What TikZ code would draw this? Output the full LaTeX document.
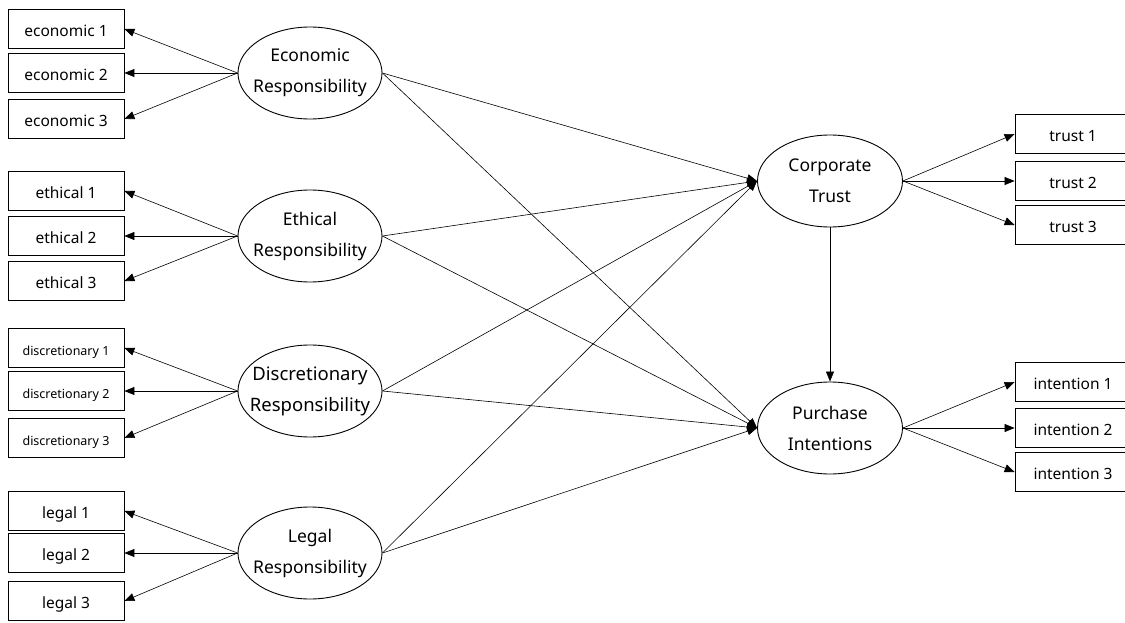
\documentclass[tikz,border=0pt]{standalone}
\usepackage{fontspec}
\setmainfont{Noto Sans}
\usetikzlibrary{arrows.meta,shapes.geometric}

\begin{document}
\begin{tikzpicture}[x=1pt,y=1pt,yscale=-1,xscale=1,
  obs/.style={draw,line width=0.8pt,minimum width=116pt,minimum height=39pt,inner sep=0pt,text height=15pt,text depth=0pt,font=\fontsize{15.5}{18}\selectfont},
  smallobs/.style={obs,text height=14pt,font=\fontsize{12.5}{15}\selectfont},
  lat/.style={draw,ellipse,line width=0.9pt,minimum width=144pt,minimum height=92pt,inner sep=0pt},
  lbl/.style={align=center,font=\fontsize{17.5}{31}\selectfont},
  biglbl/.style={align=center,font=\fontsize{18.5}{31}\selectfont},
  lnk/.style={line width=0.6pt,-{Triangle[length=10pt,width=8pt]}}]
\useasboundingbox (0,0) rectangle (1125,623);

%Shape: Ellipse [latent]
\node[lat,label={[lbl]center:{Economic\\Responsibility}}] (econ) at (310,73) {};
\node[lat,label={[lbl]center:{Ethical\\Responsibility}}] (eth) at (310,236) {};
\node[lat,label={[biglbl]center:{Discretionary\\Responsibility}}] (disc) at (310,391) {};
\node[lat,label={[lbl]center:{Legal\\Responsibility}}] (legal) at (310,553) {};
\node[lat,minimum width=145pt,label={[lbl]center:{Corporate\\Trust}}] (trust) at (830,181) {};
\node[lat,minimum width=145pt,label={[lbl]center:{Purchase\\Intentions}}] (pi) at (830,428) {};

% Text Node [observed]
\node[obs] (econ1) at (66,29) {economic 1};
\node[obs] (econ2) at (66,73) {economic 2};
\node[obs] (econ3) at (66,119) {economic 3};
\node[obs] (eth1) at (66,191) {ethical 1};
\node[obs] (eth2) at (66,236) {ethical 2};
\node[obs] (eth3) at (66,281) {ethical 3};
\node[smallobs] (disc1) at (66,348) {discretionary 1};
\node[smallobs] (disc2) at (66,391) {discretionary 2};
\node[smallobs] (disc3) at (66,438) {discretionary 3};
\node[obs] (legal1) at (66,511) {legal 1};
\node[obs] (legal2) at (66,553) {legal 2};
\node[obs] (legal3) at (66,601) {legal 3};
\node[obs] (trust1) at (1073,134) {trust 1};
\node[obs] (trust2) at (1073,181) {trust 2};
\node[obs] (trust3) at (1073,225) {trust 3};
\node[obs] (pi1) at (1073,382) {intention 1};
\node[obs] (pi2) at (1073,428) {intention 2};
\node[obs] (pi3) at (1073,472) {intention 3};

%Straight Lines [loadings]
\draw[lnk] (econ.west) -- (econ1.east);
\draw[lnk] (econ.west) -- (econ2.east);
\draw[lnk] (econ.west) -- (econ3.east);
\draw[lnk] (eth.west) -- (eth1.east);
\draw[lnk] (eth.west) -- (eth2.east);
\draw[lnk] (eth.west) -- (eth3.east);
\draw[lnk] (disc.west) -- (disc1.east);
\draw[lnk] (disc.west) -- (disc2.east);
\draw[lnk] (disc.west) -- (disc3.east);
\draw[lnk] (legal.west) -- (legal1.east);
\draw[lnk] (legal.west) -- (legal2.east);
\draw[lnk] (legal.west) -- (legal3.east);
\draw[lnk] (trust.east) -- (trust1.west);
\draw[lnk] (trust.east) -- (trust2.west);
\draw[lnk] (trust.east) -- (trust3.west);
\draw[lnk] (pi.east) -- (pi1.west);
\draw[lnk] (pi.east) -- (pi2.west);
\draw[lnk] (pi.east) -- (pi3.west);

%Straight Lines [paths]
\draw[lnk] (econ.east) -- (trust.west);
\draw[lnk] (econ.east) -- (pi.west);
\draw[lnk] (eth.east) -- (trust.west);
\draw[lnk] (eth.east) -- (pi.west);
\draw[lnk] (disc.east) -- (trust.west);
\draw[lnk] (disc.east) -- (pi.west);
\draw[lnk] (legal.east) -- (trust.west);
\draw[lnk] (legal.east) -- (pi.west);
\draw[lnk] (trust.south) -- (pi.north);

\end{tikzpicture}
\end{document}
